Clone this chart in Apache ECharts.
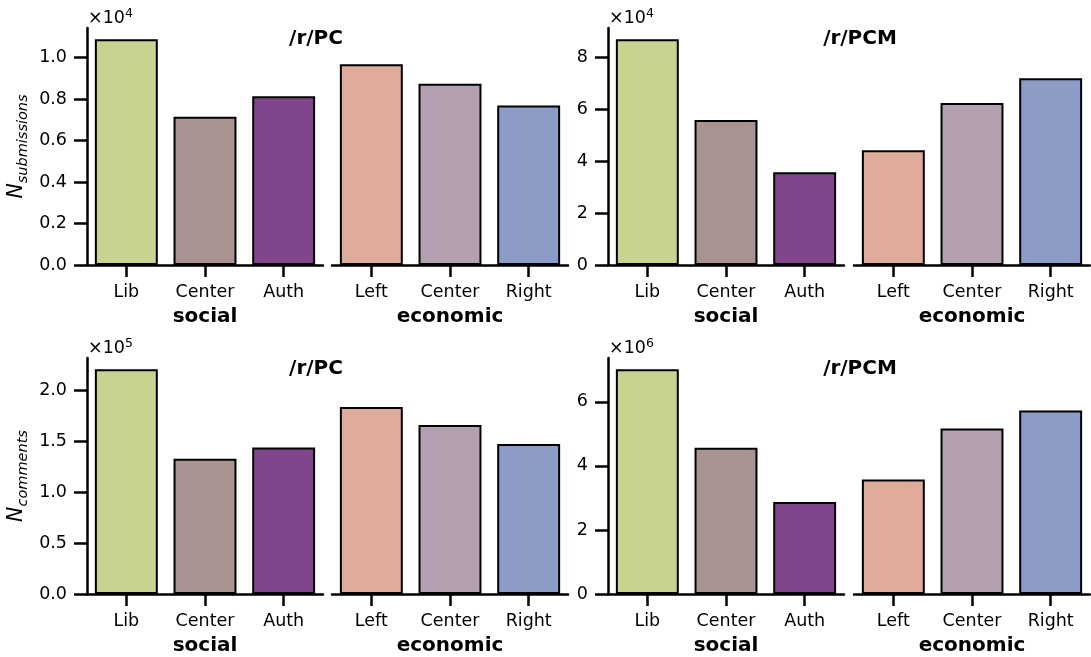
<!DOCTYPE html>
<html>
<head>
<meta charset="utf-8">
<script src="https://cdn.jsdelivr.net/npm/echarts@6/dist/echarts.min.js"></script>
<style>
  html, body { margin: 0; padding: 0; background: #fff; }
  #chart { width: 1091px; height: 657px; }
</style>
</head>
<body>
<div id="chart"></div>
<script>
// Categories and bar colours
const socialCats = ['Lib', 'Center', 'Auth'];
const economicCats = ['Left', 'Center', 'Right'];
const socialColors = ['#c9d291', '#a89391', '#80458a'];
const economicColors = ['#dfac9b', '#b3a0b0', '#8c9cc7'];

// Submission counts
const pcSubSocial = [10890, 7150, 8140];
const pcSubEconomic = [9680, 8740, 7690];
const pcmSubSocial = [87100, 56000, 35800];
const pcmSubEconomic = [44300, 62500, 72100];

// Comment counts
const pcComSocial = [220600, 132700, 143900];
const pcComEconomic = [183500, 165800, 147100];
const pcmComSocial = [7020000, 4570000, 2870000];
const pcmComEconomic = [3580000, 5170000, 5730000];

// Y tick values
const pcSubTicks = [0, 2000, 4000, 6000, 8000, 10000];
const pcmSubTicks = [0, 20000, 40000, 60000, 80000];
const pcComTicks = [0, 50000, 100000, 150000, 200000];
const pcmComTicks = [0, 2000000, 4000000, 6000000];

const FONT = 'DejaVu Sans';

const panels = [
  { title: '/r/PC',  social: pcSubSocial,  economic: pcSubEconomic,  ticks: pcSubTicks,  exp: 4, digits: 1,
    yName: 'submissions', sLeft: 87,  eLeft: 332, top: 28,  height: 237, titleX: 316 },
  { title: '/r/PCM', social: pcmSubSocial, economic: pcmSubEconomic, ticks: pcmSubTicks, exp: 4, digits: 0,
    yName: null,          sLeft: 608, eLeft: 854, top: 28,  height: 237, titleX: 860 },
  { title: '/r/PC',  social: pcComSocial,  economic: pcComEconomic,  ticks: pcComTicks,  exp: 5, digits: 1,
    yName: 'comments',    sLeft: 87,  eLeft: 332, top: 358, height: 236, titleX: 316 },
  { title: '/r/PCM', social: pcmComSocial, economic: pcmComEconomic, ticks: pcmComTicks, exp: 6, digits: 0,
    yName: null,          sLeft: 608, eLeft: 854, top: 358, height: 236, titleX: 860 }
];

const grid = [], xAxis = [], yAxis = [], series = [], graphic = [];

const axisLineStyle = { color: '#000', width: 2.5 };
const labelStyle = { color: '#000', fontFamily: FONT, fontSize: 17.5 };

panels.forEach((p, i) => {
  const yMax = Math.max(...p.social, ...p.economic) * 1.05;
  const scale = Math.pow(10, p.exp);
  const fmt = v => (v / scale).toFixed(p.digits);

  [['social', p.sLeft, 236, socialCats, p.social, socialColors],
   ['economic', p.eLeft, 236, economicCats, p.economic, economicColors]].forEach((g, j) => {
    const idx = grid.length;
    grid.push({ left: g[1], top: p.top, width: g[2], height: p.height });
    xAxis.push({
      type: 'category', gridIndex: idx, data: g[3],
      name: g[0], nameLocation: 'middle', nameGap: 42,
      nameTextStyle: { color: '#000', fontFamily: FONT, fontSize: 20, fontWeight: 'bold' },
      axisLine: { show: true, lineStyle: axisLineStyle },
      axisTick: { show: true, alignWithLabel: true, length: 12, lineStyle: axisLineStyle },
      axisLabel: Object.assign({ margin: 18, interval: 0 }, labelStyle),
      splitLine: { show: false }
    });
    const y = {
      type: 'value', gridIndex: idx, min: 0, max: yMax,
      splitLine: { show: false }
    };
    if (j === 0) {
      Object.assign(y, {
        axisLine: { show: true, lineStyle: axisLineStyle },
        axisTick: { show: true, length: 13, lineStyle: axisLineStyle, customValues: p.ticks },
        axisLabel: Object.assign({ margin: 20, formatter: fmt, customValues: p.ticks }, labelStyle)
      });
      if (p.yName) {
        Object.assign(y, {
          name: '{n|N}{s|' + p.yName + '}',
          nameLocation: 'middle', nameRotate: 90, nameGap: 56,
          nameTextStyle: {
            rich: {
              n: { fontFamily: FONT, fontSize: 20.5, fontStyle: 'italic', color: '#000' },
              s: { fontFamily: FONT, fontSize: 14.5, fontStyle: 'italic', color: '#000', padding: [14, 0, 0, 0] }
            }
          }
        });
      }
    } else {
      y.show = false;
    }
    yAxis.push(y);
    const colors = g[5];
    series.push({
      type: 'bar', xAxisIndex: idx, yAxisIndex: idx, data: g[4],
      barCategoryGap: '20%',
      itemStyle: { color: params => colors[params.dataIndex], borderColor: '#000', borderWidth: 2 },
      emphasis: { disabled: true },
      silent: true
    });
  });

  // panel title
  graphic.push({
    type: 'text', x: p.titleX, y: p.top + 10.5,
    style: { text: p.title, fill: '#000', font: 'bold 20px "DejaVu Sans"', align: 'center', verticalAlign: 'middle' }
  });
  // axis multiplier (×10^n)
  graphic.push({
    type: 'text', x: p.sLeft + 1, y: p.top - 10,
    style: {
      text: '{a|×10}{b|' + p.exp + '}', verticalAlign: 'middle', align: 'left',
      rich: {
        a: { fontFamily: FONT, fontSize: 17.5, fill: '#000', lineHeight: 22 },
        b: { fontFamily: FONT, fontSize: 12.5, fill: '#000', verticalAlign: 'top', lineHeight: 13 }
      }
    }
  });
});

const chart = echarts.init(document.getElementById('chart'), null, { renderer: 'canvas' });
chart.setOption({
  animation: false,
  backgroundColor: '#fff',
  grid, xAxis, yAxis, series, graphic
});
</script>
</body>
</html>
